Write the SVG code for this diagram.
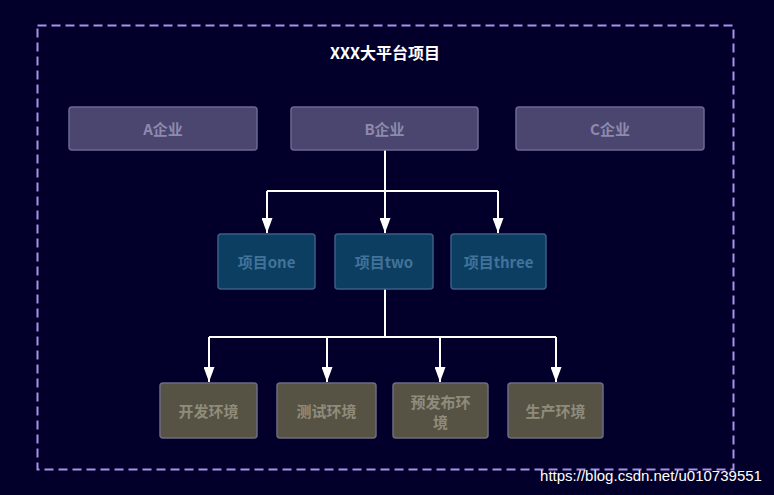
<svg xmlns="http://www.w3.org/2000/svg" width="774" height="495" viewBox="0 0 774 495">
<defs>
<marker id="arr" markerWidth="15" markerHeight="11" refX="15" refY="5.5" orient="auto" markerUnits="userSpaceOnUse" viewBox="0 0 15 11">
<path d="M0,0 L15,5.5 L0,11 Z" fill="#ffffff"/>
</marker>
<style>
text{font-family:"Noto Sans CJK SC","Liberation Sans",sans-serif;font-weight:bold;text-anchor:middle;dominant-baseline:central}
.co rect{fill:#4a4670;stroke:#6c6894;stroke-width:1.5}
.co text{fill:#8d8aac;font-size:15px}
.pr rect{fill:#0c3e62;stroke:#3b5d86;stroke-width:1.5}
.pr text{fill:#41739a;font-size:15px}
.en rect{fill:#575344;stroke:#6d6c84;stroke-width:1.5}
.en text{fill:#8f8c7c;font-size:15px}
.ln{fill:none;stroke:#ffffff;stroke-width:2}
</style>
</defs>
<rect width="774" height="495" fill="#02002a"/>
<rect id="frame" x="37.5" y="25.5" width="696" height="444" fill="none" stroke="#a892ec" stroke-width="2" stroke-dasharray="9,5"/>
<text x="385" y="52" fill="#ffffff" font-size="16">XXX大平台项目</text>
<g id="connectors">
<path class="ln" d="M385,150 V191 M267,191 H498"/>
<path class="ln" d="M267,191 V233" marker-end="url(#arr)"/>
<path class="ln" d="M385,191 V233" marker-end="url(#arr)"/>
<path class="ln" d="M498,191 V233" marker-end="url(#arr)"/>
<path class="ln" d="M385,289 V337 M209,337 H556"/>
<path class="ln" d="M209,337 V382" marker-end="url(#arr)"/>
<path class="ln" d="M327,337 V382" marker-end="url(#arr)"/>
<path class="ln" d="M440,337 V382" marker-end="url(#arr)"/>
<path class="ln" d="M556,337 V382" marker-end="url(#arr)"/>
</g>
<g id="nodeA" class="co"><rect x="69" y="107" width="188" height="43" rx="3"/><text x="163" y="128.5">A企业</text></g>
<g id="nodeB" class="co"><rect x="291" y="107" width="187" height="43" rx="3"/><text x="384.5" y="128.5">B企业</text></g>
<g id="nodeC" class="co"><rect x="516" y="107" width="188" height="43" rx="3"/><text x="610" y="128.5">C企业</text></g>
<g id="p1" class="pr"><rect x="218" y="234" width="97" height="55" rx="3"/><text x="266.5" y="261.5">项目one</text></g>
<g id="p2" class="pr"><rect x="335" y="234" width="98" height="55" rx="3"/><text x="384" y="261.5">项目two</text></g>
<g id="p3" class="pr"><rect x="451" y="234" width="95" height="55" rx="3"/><text x="498.5" y="261.5">项目three</text></g>
<g id="e1" class="en"><rect x="160" y="383" width="97" height="55" rx="3"/><text x="208.5" y="410.5">开发环境</text></g>
<g id="e2" class="en"><rect x="277" y="383" width="99" height="55" rx="3"/><text x="326.5" y="410.5">测试环境</text></g>
<g id="e3" class="en"><rect x="393" y="383" width="95" height="55" rx="3"/><text x="440.5" y="401">预发布环</text><text x="440.5" y="421">境</text></g>
<g id="e4" class="en"><rect x="508" y="383" width="95" height="55" rx="3"/><text x="555.5" y="410.5">生产环境</text></g>
<text x="651" y="475" fill="#ffffff" font-size="15" style="font-family:'Liberation Sans',sans-serif;font-weight:normal">https://blog.csdn.net/u010739551</text>
</svg>
